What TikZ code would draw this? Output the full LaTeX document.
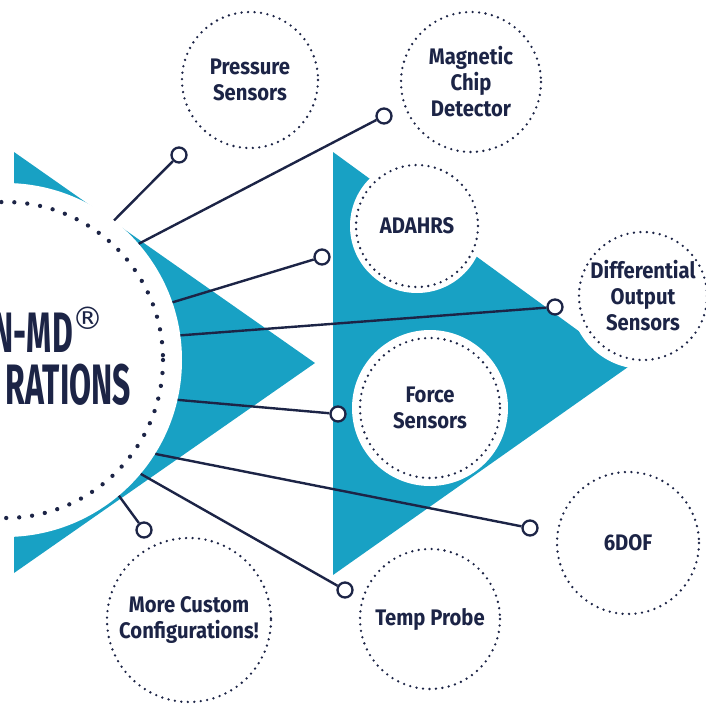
\documentclass[tikz,border=0pt]{standalone}
\usepackage{fontspec}
\setmainfont{Fira Sans}
\newfontfamily\labelfont[FakeStretch=0.9]{Fira Sans}
\newfontfamily\titlefont{Fira Sans}
\newfontfamily\markfont{DejaVu Sans}
\definecolor{tealfill}{RGB}{24,161,196}
\definecolor{navy}{RGB}{28,36,70}
\tikzset{
  halo/.style={circle, fill=white, inner sep=0pt, align=center, text=navy,
    font=\labelfont\bfseries\fontsize{22.5}{26}\selectfont},
  ringdots/.style={draw=navy, line width=2.6pt, line cap=round,
    dash pattern=on 0pt off 6.5pt},
  bigdots/.style={draw=navy, line width=4.3pt, line cap=round,
    dash pattern=on 0pt off 13pt},
  pinend/.style={circle, draw=navy, fill=white, line width=2.3pt,
    minimum size=15pt, inner sep=0pt},
  link/.style={draw=navy, line width=2.4pt},
  bigtitle/.style={text=navy, inner sep=0pt,
    font=\titlefont\bfseries\fontsize{57}{57}\selectfont}
}
\begin{document}
\begin{tikzpicture}[x=1pt,y=-1pt]
\useasboundingbox (0,0) rectangle (706,707);
\clip (0,0) rectangle (706,707);
\fill[white] (0,0) rectangle (706,707);

% two teal arrow heads
\fill[tealfill] (14,152) -- (315,363) -- (14,573) -- cycle;
\fill[tealfill] (333,152) -- (628,367) -- (333,575) -- cycle;

% product circles
\node[halo, minimum size=136pt] (pressure) at (250,80) {Pressure\\Sensors};
\draw[ringdots] (pressure.center) circle (68);
\node[halo, minimum size=140pt] (magnetic) at (471,82) {Magnetic\\Chip\\Detector};
\draw[ringdots] (magnetic.center) circle (70);
\node[halo, minimum size=134pt] (adahrs) at (417,226) {ADAHRS};
\draw[ringdots] (adahrs.center) circle (61);
\node[halo, minimum size=146pt] (diff) at (643,296) {Differential\\Output\\Sensors};
\draw[ringdots] (diff.center) circle (64);
\node[halo, minimum size=156pt] (force) at (430,408) {Force\\Sensors};
\draw[ringdots] (force.center) circle (70);
\node[halo, minimum size=142pt] (sixdof) at (628,543) {6DOF};
\draw[ringdots] (sixdof.center) circle (71);
\node[halo, minimum size=140pt] (temp) at (430,619) {Temp Probe};
\draw[ringdots] (temp.center) circle (70);
\node[halo, minimum size=164pt] (custom) at (189,620) {More Custom\\Configurations!};
\draw[ringdots] (custom.center) circle (82);

% central badge
\node[circle, fill=white, minimum size=354pt, inner sep=0pt] (hub) at (5,360) {};
\draw[bigdots] (hub.center) circle (158);
\node[bigtitle, anchor=base east] (titleA) at (73,352) {\scalebox{0.56}[1]{N-MD}};
\node[text=navy, inner sep=0pt, font=\markfont\fontsize{31}{31}\selectfont] (reg) at (88,318) {®};
\node[bigtitle, anchor=base east] (titleB) at (131,404) {\scalebox{0.56}[1]{RATIONS}};

% connector ends
\node[pinend] (e1) at (179,155) {};
\node[pinend] (e2) at (384,116) {};
\node[pinend] (e3) at (322,257) {};
\node[pinend] (e4) at (555,307) {};
\node[pinend] (e5) at (338,414) {};
\node[pinend] (e6) at (530,528) {};
\node[pinend] (e7) at (345,590) {};
\node[pinend] (e8) at (144,530) {};

% connectors
\draw[link] (hub.52.5) -- (e1);
\draw[link] (hub.41) -- (e2);
\draw[link] (hub.19.2) -- (e3);
\draw[link] (hub.8) -- (e4);
\draw[link] (hub.-13.5) -- (e5);
\draw[link] (hub.-32.9) -- (e6);
\draw[link] (hub.-40.9) -- (e7);
\draw[link] (hub.-50.5) -- (e8);
\end{tikzpicture}
\end{document}
